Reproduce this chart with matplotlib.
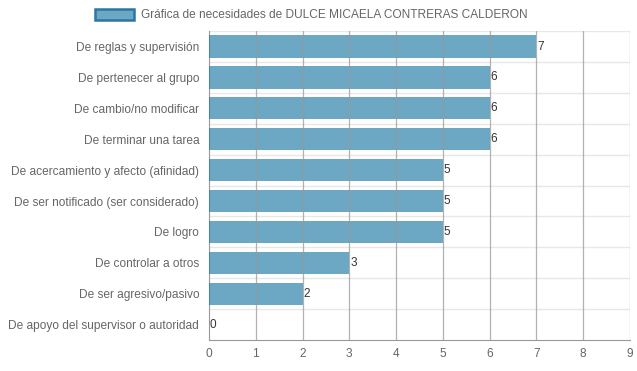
import matplotlib.pyplot as plt
import numpy as np
from matplotlib.patches import Patch

plt.rcParams['font.family'] = ['Liberation Sans', 'DejaVu Sans']

categorias = ['De reglas y supervisión', 'De pertenecer al grupo', 'De cambio/no modificar',
              'De terminar una tarea', 'De acercamiento y afecto (afinidad)',
              'De ser notificado (ser considerado)', 'De logro', 'De controlar a otros',
              'De ser agresivo/pasivo', 'De apoyo del supervisor o autoridad']
valores = [7, 6, 6, 6, 5, 5, 5, 3, 2, 0]
titulo = 'Gráfica de necesidades de DULCE MICAELA CONTRERAS CALDERON'

fig = plt.figure(figsize=(6.37, 3.71), dpi=100)
ax = fig.add_axes([0.328, 0.0836, 0.661, 0.8324])

color_barra = (0.118, 0.47, 0.647, 0.65)
y = np.arange(len(categorias))
ax.barh(y, valores, height=0.72, color=color_barra, linewidth=0, zorder=3)

for yi, v in zip(y, valores):
    ax.text(v + 0.02, yi, str(v), ha='left', va='center', fontsize=8.5,
            color='#333333', zorder=4)

ax.set_xlim(0, 9)
ax.set_ylim(len(categorias) - 0.5, -0.5)
ax.set_xticks(range(10))
ax.set_yticks(y)
ax.set_yticklabels(categorias)

# lineas verticales
for x in range(1, 10):
    ax.axvline(x, color='#999999', lw=0.9, alpha=0.75, zorder=4)
# lineas horizontales entre categorias
for b in np.arange(-0.5, len(categorias) - 0.5, 1):
    ax.axhline(b, color='#e8e8e8', lw=1.0, zorder=1)

for s in ['top', 'right']:
    ax.spines[s].set_visible(False)
ax.spines['left'].set_color('#999999')
ax.spines['bottom'].set_color('#999999')
ax.tick_params(axis='both', colors='#666666', labelsize=8.6, length=0)
ax.tick_params(axis='y', pad=7)
ax.tick_params(axis='x', pad=6)

h = Patch(facecolor=color_barra, edgecolor='#2c76a3', linewidth=1.8)
fig.legend([h], [titulo], loc='upper center', bbox_to_anchor=(0.488, 1.005), frameon=False,
           handlelength=3.3, handleheight=1.0, handletextpad=0.55, fontsize=8.6,
           labelcolor='#666666')

fig.savefig('out.png', dpi=100)
